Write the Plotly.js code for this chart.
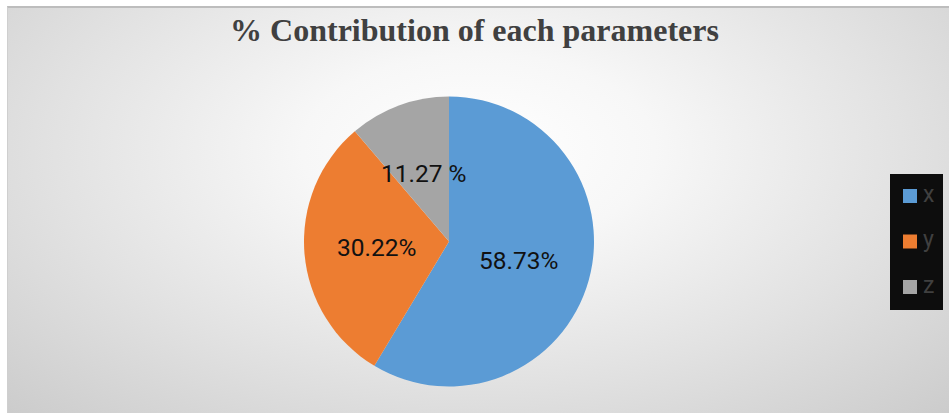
<!DOCTYPE html>
<html>
<head>
<meta charset="utf-8">
<script src="https://cdn.plot.ly/plotly-3.0.1.min.js"></script>
<style>
  html, body { margin: 0; padding: 0; background: #ffffff; }
  #frame {
    position: absolute; left: 7px; top: 6px; width: 942px; height: 407px;
    box-sizing: border-box;
    border-top: 2px solid #bdbdbd; border-left: 1px solid #cfcfcf;
    background: radial-gradient(ellipse 75% 95% at 50% 35%, #ffffff 0%, #f7f7f7 25%, #e2e2e2 60%, #c9c9c9 100%);
  }
  #chart { position: absolute; left: 0; top: 0; width: 949px; height: 413px; }
</style>
</head>
<body>
<div id="frame"></div>
<div id="chart"></div>
<script>
const categories = ["x", "y", "z"];
const values = [58.73, 30.22, 11.27];
const valueLabels = ["58.73%", "30.22%", "11.27 %"];
const sliceColors = ["#5b9bd5", "#ed7d31", "#a5a5a5"];

const W = 949, H = 413;
const cx = 449, cy = 241.5, r = 145;
const px = v => v / W, py = v => 1 - v / H;

const trace = {
  type: "pie",
  labels: categories,
  values: values,
  textinfo: "none",
  sort: false,
  direction: "clockwise",
  rotation: 0,
  hoverinfo: "none",
  showlegend: false,
  marker: { colors: sliceColors, line: { width: 0 } },
  domain: { x: [(cx - r) / W, (cx + r) / W], y: [1 - (cy + r) / H, 1 - (cy - r) / H] }
};

const shapes = [];
const annotations = [];

// data labels: placed at half radius on each slice's mid-angle (computed from values)
const total = values.reduce((a, b) => a + b, 0);
let cum = 0;
values.forEach((v, i) => {
  const mid = (cum + v / 2) / total * 2 * Math.PI;
  cum += v;
  const lx = cx + 0.5 * r * Math.sin(mid);
  const ly = cy - 0.5 * r * Math.cos(mid);
  annotations.push({
    xref: "paper", yref: "paper", x: px(lx), y: py(ly),
    xanchor: "center", yanchor: "middle", showarrow: false, text: valueLabels[i],
    font: { family: "Roboto, 'Liberation Sans', sans-serif", size: 24.5, color: "#111111" }
  });
});

// custom legend (layout decoration built from the category arrays)
const legBox = { x0: 890, x1: 943, y0: 174, y1: 310 };
const legFirstY = 196, legStep = 45.5, sq = 14, sqX = 903;
shapes.push({
  type: "rect", xref: "paper", yref: "paper",
  x0: px(legBox.x0), x1: px(legBox.x1), y0: py(legBox.y1), y1: py(legBox.y0),
  fillcolor: "#0d0d0d", line: { width: 0 }, layer: "above"
});
categories.forEach((c, i) => {
  const yc = legFirstY + i * legStep;
  shapes.push({
    type: "rect", xref: "paper", yref: "paper",
    x0: px(sqX), x1: px(sqX + sq), y0: py(yc + sq / 2), y1: py(yc - sq / 2),
    fillcolor: sliceColors[i], line: { width: 0 }, layer: "above"
  });
  annotations.push({
    xref: "paper", yref: "paper", x: px(921), y: py(yc - 2),
    xanchor: "left", yanchor: "middle", showarrow: false, text: c,
    font: { family: "Roboto, 'Liberation Sans', sans-serif", size: 23, color: "#404040" }
  });
});

const layout = {
  width: W, height: H,
  margin: { l: 0, r: 0, t: 0, b: 0 },
  paper_bgcolor: "rgba(0,0,0,0)",
  plot_bgcolor: "rgba(0,0,0,0)",
  title: {
    text: "<b>% Contribution of each parameters</b>",
    font: { family: "'Liberation Serif', 'Times New Roman', serif", size: 32, color: "#404040" },
    x: 0.5, xanchor: "center", y: 1 - 30 / H, yanchor: "middle"
  },
  showlegend: false,
  shapes: shapes,
  annotations: annotations
};

Plotly.newPlot("chart", [trace], layout, { displayModeBar: false, staticPlot: true });
</script>
</body>
</html>
